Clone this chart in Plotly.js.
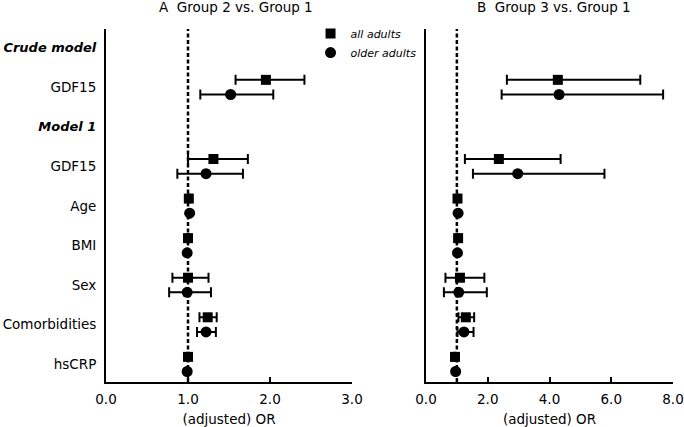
<!DOCTYPE html>
<html>
<head>
<meta charset="utf-8">
<script src="https://cdn.plot.ly/plotly-3.0.1.min.js"></script>
<style>html,body{margin:0;padding:0;background:#fff;}#chart{width:684px;height:427px;}</style>
</head>
<body>
<div id="chart"></div>
<script>
// Row labels (top to bottom); rows 0 and 2 are section headers
const rowLabels = ['Crude model', 'GDF15', 'Model 1', 'GDF15', 'Age', 'BMI', 'Sex', 'Comorbidities', 'hsCRP'];
const headerRows = [0, 2];
const seriesNames = ['all adults', 'older adults'];
const refOR = 1.0;

// Panel A: Group 2 vs. Group 1
const allOR_A   = [null, 1.95, null, 1.31, 1.01, 1.00, 1.00, 1.24, 1.00];
const allLo_A   = [null, 1.58, null, 1.00, 1.00, 0.99, 0.81, 1.14, 0.99];
const allHi_A   = [null, 2.42, null, 1.73, 1.02, 1.01, 1.25, 1.35, 1.01];
const oldOR_A   = [null, 1.52, null, 1.22, 1.02, 0.99, 0.99, 1.22, 0.99];
const oldLo_A   = [null, 1.15, null, 0.87, 1.01, 0.98, 0.77, 1.11, 0.98];
const oldHi_A   = [null, 2.04, null, 1.67, 1.03, 1.00, 1.28, 1.34, 1.00];

// Panel B: Group 3 vs. Group 1
const allOR_B   = [null, 4.27, null, 2.36, 1.02, 1.04, 1.10, 1.29, 0.94];
const allLo_B   = [null, 2.62, null, 1.26, 1.00, 1.02, 0.63, 1.05, 0.92];
const allHi_B   = [null, 6.94, null, 4.36, 1.04, 1.06, 1.89, 1.56, 0.96];
const oldOR_B   = [null, 4.31, null, 2.97, 1.04, 1.02, 1.06, 1.23, 0.96];
const oldLo_B   = [null, 2.45, null, 1.52, 1.02, 1.00, 0.58, 1.02, 0.94];
const oldHi_B   = [null, 7.68, null, 5.78, 1.06, 1.04, 1.97, 1.54, 0.98];

const panelTitles = ['A\u00a0 Group 2 vs. Group 1', 'B\u00a0 Group 3 vs. Group 1'];
const xTitle = '(adjusted) OR';

const FONT = 'DejaVu Sans, Verdana, sans-serif';
const OFFSET = 0.185;

function makeTrace(or, lo, hi, name, symbol, off, xa, ya, showLegend) {
  const x = [], y = [], plus = [], minus = [];
  or.forEach((v, i) => {
    if (v === null) return;
    x.push(v);
    y.push(i + off);
    plus.push(hi[i] - v);
    minus.push(v - lo[i]);
  });
  return {
    type: 'scatter', mode: 'markers', name: name,
    x: x, y: y, xaxis: xa, yaxis: ya, showlegend: showLegend,
    marker: {symbol: symbol, size: symbol === 'square' ? 10 : 11, color: '#000'},
    error_x: {type: 'data', symmetric: false, array: plus, arrayminus: minus,
              color: '#000', thickness: 2, width: 5},
    hoverinfo: 'x+y'
  };
}

const traces = [
  makeTrace(allOR_A, allLo_A, allHi_A, seriesNames[0], 'square', -OFFSET, 'x', 'y', true),
  makeTrace(oldOR_A, oldLo_A, oldHi_A, seriesNames[1], 'circle', OFFSET, 'x', 'y', true),
  makeTrace(allOR_B, allLo_B, allHi_B, seriesNames[0], 'square', -OFFSET, 'x2', 'y2', false),
  makeTrace(oldOR_B, oldLo_B, oldHi_B, seriesNames[1], 'circle', OFFSET, 'x2', 'y2', false)
];

const tickText = rowLabels.map((l, i) => headerRows.includes(i)
  ? '<span style="font-size:13px"><b><i>' + l + '</i></b></span>' : l);
const rowVals = rowLabels.map((_, i) => i);

const xCommon = {
  showline: true, linewidth: 2, linecolor: '#000', showgrid: false, zeroline: false,
  ticks: 'inside', ticklen: 5, tickwidth: 2, tickcolor: '#000', ticklabelstandoff: 4,
  tickformat: '.1f', tickfont: {family: FONT, size: 13.5, color: '#000'},
  title: {text: xTitle, font: {family: FONT, size: 13.5, color: '#000'}, standoff: 10},
  fixedrange: true, automargin: false
};
const yCommon = {
  range: [8.45, -0.47], showline: true, linewidth: 2, linecolor: '#000',
  showgrid: false, zeroline: false, ticks: '', tickvals: rowVals, ticktext: tickText,
  tickfont: {family: FONT, size: 13.5, color: '#000'}, fixedrange: true, automargin: false,
  domain: [0, 1]
};

const layout = {
  width: 684, height: 427,
  margin: {l: 0, r: 0, t: 29, b: 45, pad: 0},
  paper_bgcolor: '#fff', plot_bgcolor: '#fff',
  font: {family: FONT, color: '#000'},
  showlegend: true,
  legend: {x: 0.454, xanchor: 'left', y: 0.96, yanchor: 'middle',
           font: {family: FONT, size: 11, color: '#000', style: 'italic'},
           bgcolor: 'rgba(0,0,0,0)', itemclick: false, tracegroupgap: 0},
  xaxis: Object.assign({}, xCommon, {domain: [106/684, 352/684], range: [0, 3], dtick: 1, anchor: 'y'}),
  xaxis2: Object.assign({}, xCommon, {domain: [426/684, 673/684], range: [0, 8], dtick: 2, anchor: 'y2'}),
  yaxis: Object.assign({}, yCommon, {anchor: 'x', ticklabelstandoff: 5}),
  yaxis2: Object.assign({}, yCommon, {anchor: 'x2', showticklabels: false}),
  shapes: [
    {type: 'line', xref: 'x', yref: 'paper', x0: refOR, x1: refOR, y0: 0, y1: 1, layer: 'below',
     line: {color: '#000', width: 2.5, dash: '4px,2.5px'}},
    {type: 'line', xref: 'x2', yref: 'paper', x0: refOR, x1: refOR, y0: 0, y1: 1, layer: 'below',
     line: {color: '#000', width: 2.5, dash: '4px,2.5px'}}
  ],
  annotations: [
    {text: panelTitles[0], xref: 'x domain', yref: 'paper', x: 0.53, y: 1.063, xanchor: 'center', yanchor: 'middle',
     showarrow: false, font: {family: FONT, size: 13.5, color: '#000'}},
    {text: panelTitles[1], xref: 'x2 domain', yref: 'paper', x: 0.52, y: 1.063, xanchor: 'center', yanchor: 'middle',
     showarrow: false, font: {family: FONT, size: 13.5, color: '#000'}}
  ]
};

Plotly.newPlot('chart', traces, layout, {displayModeBar: false, staticPlot: true});
</script>
</body>
</html>
